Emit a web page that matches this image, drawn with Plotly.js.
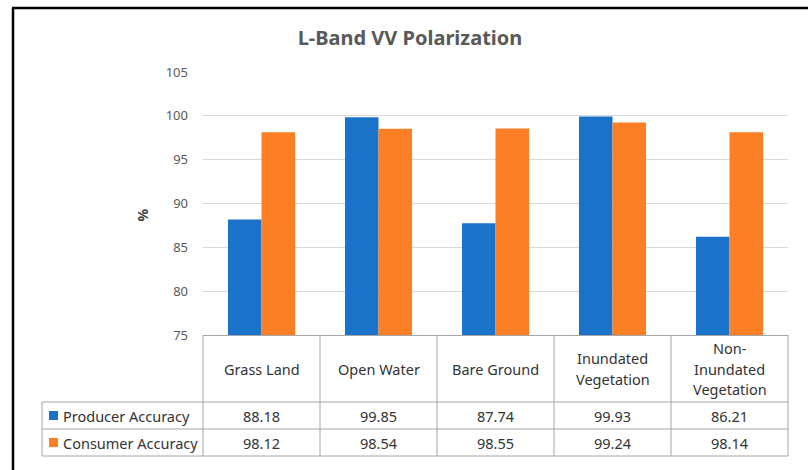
<!DOCTYPE html>
<html><head><meta charset="utf-8">
<script src="https://cdn.plot.ly/plotly-3.0.1.min.js"></script>
<style>html,body{margin:0;padding:0;background:#fff}</style>
</head><body><div id="chart" style="width:808px;height:470px"></div>
<script>
const categories = ["Grass Land","Open Water","Bare Ground","Inundated Vegetation","Non-Inundated Vegetation"];
const categoryLabels = ["Grass Land","Open Water","Bare Ground","Inundated<br>Vegetation","Non-<br>Inundated<br>Vegetation"];
const seriesNames = ["Producer Accuracy","Consumer Accuracy"];
const producerAccuracy = [88.18,99.85,87.74,99.93,86.21];
const consumerAccuracy = [98.12,98.54,98.55,99.24,98.14];
const valueLabels = [
  ["88.18","99.85","87.74","99.93","86.21"],
  ["98.12","98.54","98.55","99.24","98.14"]
];
const yTicks = [75,80,85,90,95,100,105];
const chartTitle = "L-Band VV Polarization";
const yTitle = "%";

const colors = ["#1A73C9","#FC7F25"];
const W = 808, H = 470, L = 203, R = 20, T = 72, B = 135;
const plotW = W - L - R, plotH = H - T - B;
const px = x => (x - L) / plotW;
const py = y => (H - B - y) / plotH;
const FONT = "Noto Sans, Open Sans, sans-serif";
const gridC = "#a6a6a6";
const tableFont = {family: FONT, size: 14.5, color: "#333333"};

const traces = [producerAccuracy, consumerAccuracy].map((vals, k) => ({
  type: "bar", x: categories, y: vals, name: seriesNames[k],
  marker: {color: colors[k]}, hoverinfo: "x+y+name"
}));

const shapes = [];
const annotations = [];
const line = (xref, x0, x1, y0, y1, color, w) => shapes.push({
  type: "line", xref: xref, yref: "paper", x0: x0, x1: x1, y0: y0, y1: y1,
  line: {color: color, width: w}, layer: "above"
});

// table column dividers
line("paper", 0, 0, py(456), 0, gridC, 1);
line("paper", 1, 1, py(456), 0, gridC, 1);
for (let i = 1; i < categories.length; i++) line("x", i - 0.5, i - 0.5, py(456), 0, gridC, 1);
// table row lines
[402, 429, 456].forEach(y => line("paper", px(42), 1, py(y), py(y), gridC, 1));
line("paper", px(42), px(42), py(402), py(456), gridC, 1);

// header labels
categoryLabels.forEach((lab, i) => {
  const parts = lab.split("<br>");
  parts.forEach((p, j) => {
    annotations.push({
      x: categories[i], xref: "x", yref: "paper",
      y: py(368.5 + (j - (parts.length - 1) / 2) * 20.5),
      text: p, showarrow: false, xanchor: "center", yanchor: "middle",
      font: tableFont
    });
  });
});
// rows
const rowY = [415.5, 442.5];
seriesNames.forEach((name, k) => {
  shapes.push({type: "rect", xref: "paper", yref: "paper",
    x0: px(49), x1: px(58), y0: py(rowY[k] - 4.5), y1: py(rowY[k] + 4.5),
    fillcolor: colors[k], line: {width: 0}});
  annotations.push({x: px(61), y: py(rowY[k]), xref: "paper", yref: "paper",
    text: name, showarrow: false, xanchor: "left", yanchor: "middle",
    font: tableFont});
  valueLabels[k].forEach((v, i) => annotations.push({
    x: categories[i], xref: "x", y: py(rowY[k]), yref: "paper",
    text: v, showarrow: false, xanchor: "center", yanchor: "middle",
    font: tableFont}));
});
// y title
annotations.push({x: px(130), y: py(215), xref: "paper", yref: "paper", text: "<b>" + yTitle + "</b>",
  showarrow: false, textangle: -90, font: {family: FONT, size: 14, color: "#404040"}});

// frame
line("paper", px(12), 1.1, py(8), py(8), "#000", 2.5);
line("paper", px(13), px(13), py(8), py(475), "#000", 2.5);

const layout = {
  width: W, height: H,
  margin: {l: L, r: R, t: T, b: B, pad: 0},
  paper_bgcolor: "#fff", plot_bgcolor: "#fff",
  title: {text: "<b>" + chartTitle + "</b>", xref: "container", yref: "container",
    x: 410 / W, y: 1 - 38 / H, xanchor: "center", yanchor: "middle",
    font: {family: FONT, size: 20, color: "#595959"}},
  showlegend: false,
  barmode: "group", bargap: 0.427, bargroupgap: 0,
  xaxis: {type: "category", range: [-0.5, categories.length - 0.5], showticklabels: false,
    showgrid: false, zeroline: false, showline: true, linecolor: gridC, linewidth: 1, ticks: "", fixedrange: true},
  yaxis: {range: [75, 105], tickvals: yTicks, ticktext: yTicks.map(String),
    showgrid: true, gridcolor: "#d9d9d9", gridwidth: 1, zeroline: false,
    showline: false, ticks: "", ticklabelstandoff: 14,
    tickfont: {family: FONT, size: 13, color: "#595959"}, fixedrange: true},
  shapes: shapes, annotations: annotations
};
Plotly.newPlot("chart", traces, layout, {displayModeBar: false, staticPlot: true});
</script></body></html>
